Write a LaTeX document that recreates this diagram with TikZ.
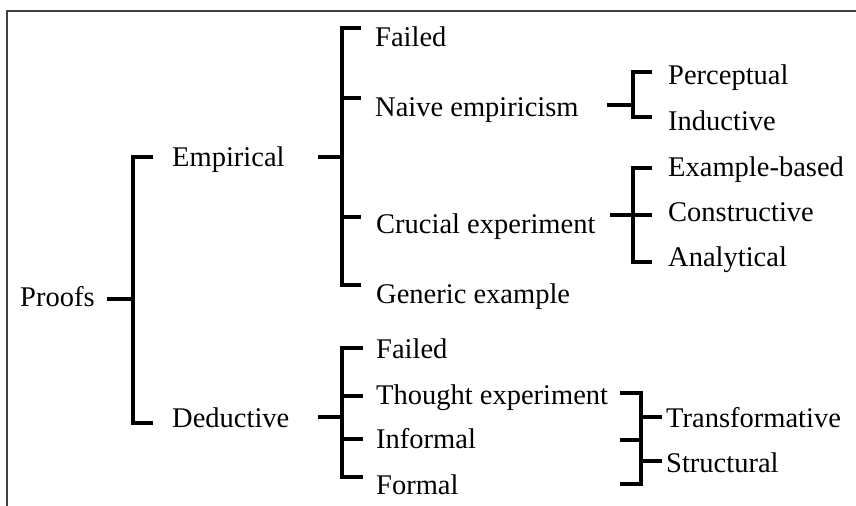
\documentclass[tikz,border=0pt]{standalone}
\usepackage{fontspec}
\setmainfont{Liberation Serif}
\begin{document}
\begin{tikzpicture}[x=1bp,y=-1bp,
  lbl/.style={anchor=base west,inner sep=0pt,font=\fontsize{28.5bp}{30bp}\selectfont},
  brk/.style={line width=3.6bp,line cap=butt,line join=miter},
  frm/.style={line width=1.4bp,draw=black!75}]
\useasboundingbox (0,0) rectangle (856,506);
\draw[frm] (856,11) -- (7,11) -- (7,506);
% labels
\node[lbl] (proofs) at (20,307) {Proofs};
\node[lbl] (emp) at (172,167) {Empirical};
\node[lbl] (ded) at (172,427) {Deductive};
\node[lbl] (fail1) at (375,47) {Failed};
\node[lbl] (naive) at (375,117) {Naive empiricism};
\node[lbl] (cruc) at (376,234) {Crucial experiment};
\node[lbl] (gen) at (376,304) {Generic example};
\node[lbl] (perc) at (668,85) {Perceptual};
\node[lbl] (ind) at (668,131) {Inductive};
\node[lbl] (exb) at (668,177) {Example-based};
\node[lbl] (cons) at (668,222) {Constructive};
\node[lbl] (ana) at (668,267) {Analytical};
\node[lbl] (fail2) at (376,358) {Failed};
\node[lbl] (thou) at (376,404) {Thought experiment};
\node[lbl] (inf) at (376,448) {Informal};
\node[lbl] (form) at (376,494) {Formal};
\node[lbl] (trans) at (666,427) {Transformative};
\node[lbl] (struc) at (666,472) {Structural};
% bracket coordinates
\coordinate (p0) at (107,299); \coordinate (pj) at (133,299);
\coordinate (pa) at (153,157); \coordinate (pb) at (153,423);
\coordinate (e0) at (318,157); \coordinate (ej) at (342,157);
\coordinate (ea) at (361,28); \coordinate (eb) at (361,98);
\coordinate (ec) at (361,217); \coordinate (ed) at (361,285);
\coordinate (d0) at (318,417); \coordinate (dj) at (342,417);
\coordinate (da) at (363,348); \coordinate (db) at (363,396);
\coordinate (dc) at (363,439); \coordinate (dd) at (363,477);
\coordinate (n0) at (607,105); \coordinate (nj) at (633,105);
\coordinate (na) at (652,72); \coordinate (nb) at (652,117);
\coordinate (c0) at (610,215); \coordinate (cj) at (633,215);
\coordinate (ca) at (652,168); \coordinate (cb) at (652,215); \coordinate (cc) at (652,262);
\coordinate (t0) at (620,393); \coordinate (t1) at (620,440); \coordinate (t2) at (620,484);
\coordinate (ta) at (662,417); \coordinate (tb) at (662,461);
% Proofs bracket
\draw[brk] (p0) -- (pj);
\draw[brk] (pa) -| (pj |- pb) -- (pb);
% Empirical bracket
\draw[brk] (e0) -- (ej);
\draw[brk] (ea) -| (ej |- ed) -- (ed);
\draw[brk] (ej |- eb) -- (eb);
\draw[brk] (ej |- ec) -- (ec);
% Deductive bracket
\draw[brk] (d0) -- (dj);
\draw[brk] (da) -| (dj |- dd) -- (dd);
\draw[brk] (dj |- db) -- (db);
\draw[brk] (dj |- dc) -- (dc);
% Naive bracket
\draw[brk] (n0) -- (nj);
\draw[brk] (na) -| (nj |- nb) -- (nb);
% Crucial bracket
\draw[brk] (c0) -- (cb);
\draw[brk] (ca) -| (cj |- cc) -- (cc);
% Thought experiment bracket
\draw[brk] (t0) -- (641,393) -- (641,484) -- (t2);
\draw[brk] (t1) -- (641,440);
\draw[brk] (641,417) -- (ta);
\draw[brk] (641,461) -- (tb);
\end{tikzpicture}
\end{document}
